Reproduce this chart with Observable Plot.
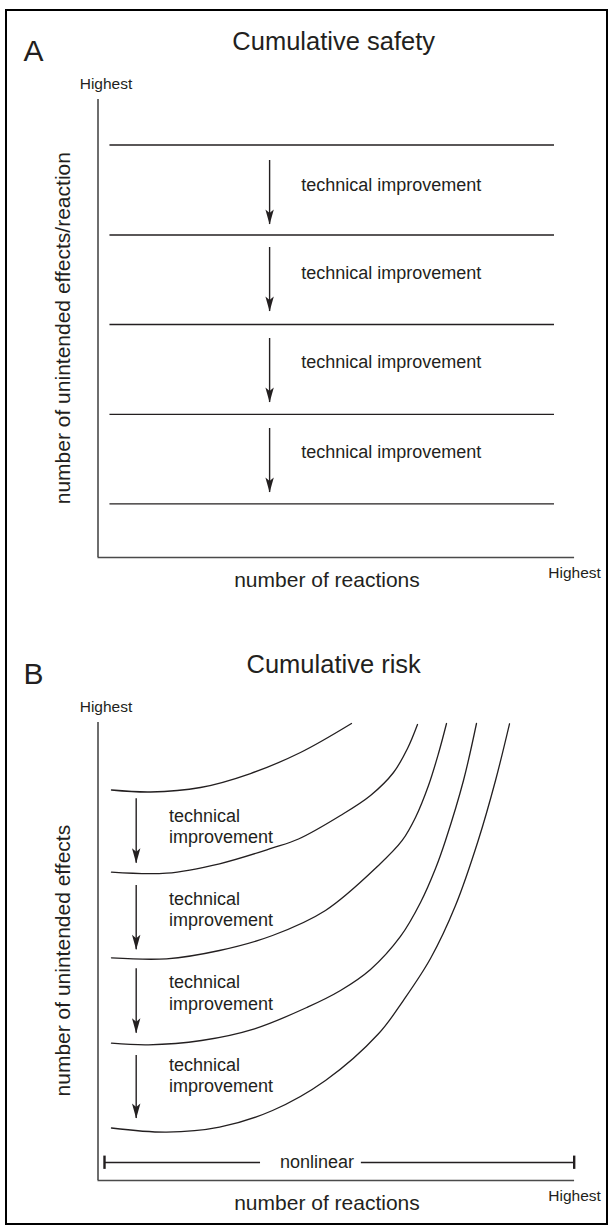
<!DOCTYPE html>
<html><head><meta charset="utf-8">
<script src="https://cdn.jsdelivr.net/npm/d3@7"></script>
<script src="https://cdn.jsdelivr.net/npm/@observablehq/plot@0.6"></script>
<style>
body{margin:0;background:#fff;}
#wrap{position:relative;width:611px;height:1227px;overflow:hidden;background:#fff;}
#frame{position:absolute;left:4.5px;top:9px;width:603px;height:1216px;border:2.5px solid #000;box-sizing:border-box;pointer-events:none;}
#wrap svg{display:block;}
</style></head><body>
<div id="wrap"><div id="a"></div><div id="b"></div><div id="frame"></div></div>
<script>
// ---------- data (x: 0 = origin, 100 = "Highest"; y: 0 = origin, 100 = "Highest") ----------
// Panel A: cumulative safety (effects per reaction)
const levelsA = [90.07, 70.41, 50.87, 31.27, 11.72];
const levelSpanA = [2.5, 95.5];
const arrowXA = 35.9;
const arrowStartA = [86.68, 67.69, 47.82, 28.17];
const arrowTipA = [72.71, 53.71, 33.84, 14.19];
const noteYA = [80.13, 60.70, 41.27, 21.83];
const noteXA = 42.5;

// Panel B: cumulative risk (total effects)
const curve1 = [[2.82,85.26],[10.98,84.83],[21.44,85.81],[31.90,88.86],[42.36,93.45],[53.03,99.78]];
const curve2 = [[2.82,67.31],[14.33,67.10],[25.42,69.15],[36.51,72.60],[41.95,74.56],[50.73,79.69],[57.01,84.06],[61.82,89.08],[64.75,94.32],[66.84,99.56]];
const curve3 = [[2.82,48.62],[14.33,48.41],[25.42,50.22],[36.51,53.49],[47.59,58.95],[58.68,68.78],[63.64,74.24],[66.42,79.26],[69.14,86.24],[71.23,93.23],[72.91,99.78]];
const curve4 = [[2.82,29.98],[10.56,29.63],[21.65,30.57],[32.74,33.12],[43.83,37.84],[50.73,41.48],[57.01,46.07],[63.28,53.28],[67.47,60.70],[70.61,68.12],[72.70,74.24],[76.46,87.34],[79.18,99.78]];
const curve5 = [[2.82,11.46],[14.33,10.55],[25.42,11.64],[36.51,15.28],[47.59,21.83],[58.68,32.03],[63.87,39.30],[69.56,48.47],[74.79,60.04],[79.54,74.24],[83.16,87.34],[86.09,99.72]];
const arrowXB = 7.99;
const arrowStartB = [83.34, 64.41, 46.22, 27.29];
const arrowTipB = [69.28, 50.37, 32.16, 13.54];
const noteYB = [73.65, 55.46, 37.27, 19.28];
const noteXB = 14.85;
const nonlinearY = 3.93;
const nonlinearSegments = [[1.36, 34.0], [55.1, 99.62]];
const nonlinearLabelX = 45.8;

// ---------- helpers ----------
const FONT = "'Liberation Sans', Arial, Helvetica, sans-serif";
const INK = "#231f20";
const AXIS = "#4a4a4a";
const arrowHead = {
  draw(ctx) {
    ctx.moveTo(0, 0);
    ctx.lineTo(-4.2, -15);
    ctx.lineTo(0, -11.5);
    ctx.lineTo(4.2, -15);
    ctx.closePath();
  }
};

function arrowMarks(x, starts, tips) {
  const rows = starts.map((s, i) => ({x, s, t: tips[i]}));
  return [
    Plot.ruleX(rows, {x: "x", y1: "s", y2: "t", stroke: INK, strokeWidth: 1.4}),
    Plot.dot(rows, {x: "x", y: "t", symbol: arrowHead, fill: INK, stroke: "none"})
  ];
}

function frameMarks(letter, title, ylabel, ylabelY) {
  const t = (s, o) => Plot.text([s], {text: d => d, fill: INK, fontFamily: FONT, ...o});
  return [
    Plot.ruleX([0], {y1: 0, y2: 100, stroke: AXIS, strokeWidth: 1.6}),
    Plot.ruleY([0], {x1: 0, x2: 99.7, stroke: AXIS, strokeWidth: 1.6}),
    t(letter, {x: -15.6, y: 108.5, fontSize: 30, textAnchor: "start", lineAnchor: "bottom"}),
    t(title, {x: 49.3, y: 110.7, fontSize: 25.5, textAnchor: "middle", lineAnchor: "bottom"}),
    t("Highest", {x: 1.67, y: 102.4, fontSize: 15.5, textAnchor: "middle", lineAnchor: "bottom"}),
    t("Highest", {x: 99.7, y: -4.48, fontSize: 15.5, textAnchor: "middle", lineAnchor: "bottom"}),
    t("number of reactions", {x: 47.9, y: -6.55, fontSize: 21, textAnchor: "middle", lineAnchor: "bottom"}),
    t(ylabel, {x: -5.86, y: ylabelY, fontSize: 21, rotate: -90, textAnchor: "middle", lineAnchor: "bottom"})
  ];
}

function makePlot(height, marks) {
  return Plot.plot({
    width: 611,
    height,
    x: {domain: [0, 100], range: [97.5, 575.5], axis: null},
    y: {domain: [0, 100], range: [557, 99], axis: null},
    style: {fontFamily: FONT, background: "transparent", overflow: "visible"},
    marks
  });
}

// ---------- panel A ----------
const plotA = makePlot(623, [
  ...frameMarks("A", "Cumulative safety", "number of unintended effects/reaction", 50.07),
  Plot.ruleY(levelsA, {x1: levelSpanA[0], x2: levelSpanA[1], stroke: INK, strokeWidth: 1.3}),
  ...arrowMarks(arrowXA, arrowStartA, arrowTipA),
  Plot.text(noteYA, {x: noteXA, y: d => d, text: () => "technical improvement", fontSize: 18, textAnchor: "start", lineAnchor: "bottom", fill: INK, fontFamily: FONT})
]);
document.getElementById("a").append(plotA);

// ---------- panel B ----------
const curveRows = [curve1, curve2, curve3, curve4, curve5].flatMap((c, i) => c.map(([x, y]) => ({curve: i, x, y})));
const plotB = makePlot(604, [
  ...frameMarks("B", "Cumulative risk", "number of unintended effects", 48.0),
  Plot.line(curveRows, {x: "x", y: "y", z: "curve", curve: "catmull-rom", stroke: INK, strokeWidth: 1.3}),
  ...arrowMarks(arrowXB, arrowStartB, arrowTipB),
  Plot.text(noteYB, {x: noteXB, y: d => d, text: () => "technical\nimprovement", fontSize: 18, lineHeight: 1.2, textAnchor: "start", lineAnchor: "bottom", fill: INK, fontFamily: FONT}),
  Plot.ruleY(nonlinearSegments, {y: () => nonlinearY, x1: d => d[0], x2: d => d[1], stroke: INK, strokeWidth: 1.3}),
  Plot.ruleX([nonlinearSegments[0][0], nonlinearSegments[1][1]], {y1: nonlinearY - 1.5, y2: nonlinearY + 1.4, stroke: INK, strokeWidth: 2.4}),
  Plot.text(["nonlinear"], {x: nonlinearLabelX, y: nonlinearY, text: d => d, fontSize: 18, textAnchor: "middle", lineAnchor: "middle", fill: INK, fontFamily: FONT})
]);
document.getElementById("b").append(plotB);
</script>
</body></html>
